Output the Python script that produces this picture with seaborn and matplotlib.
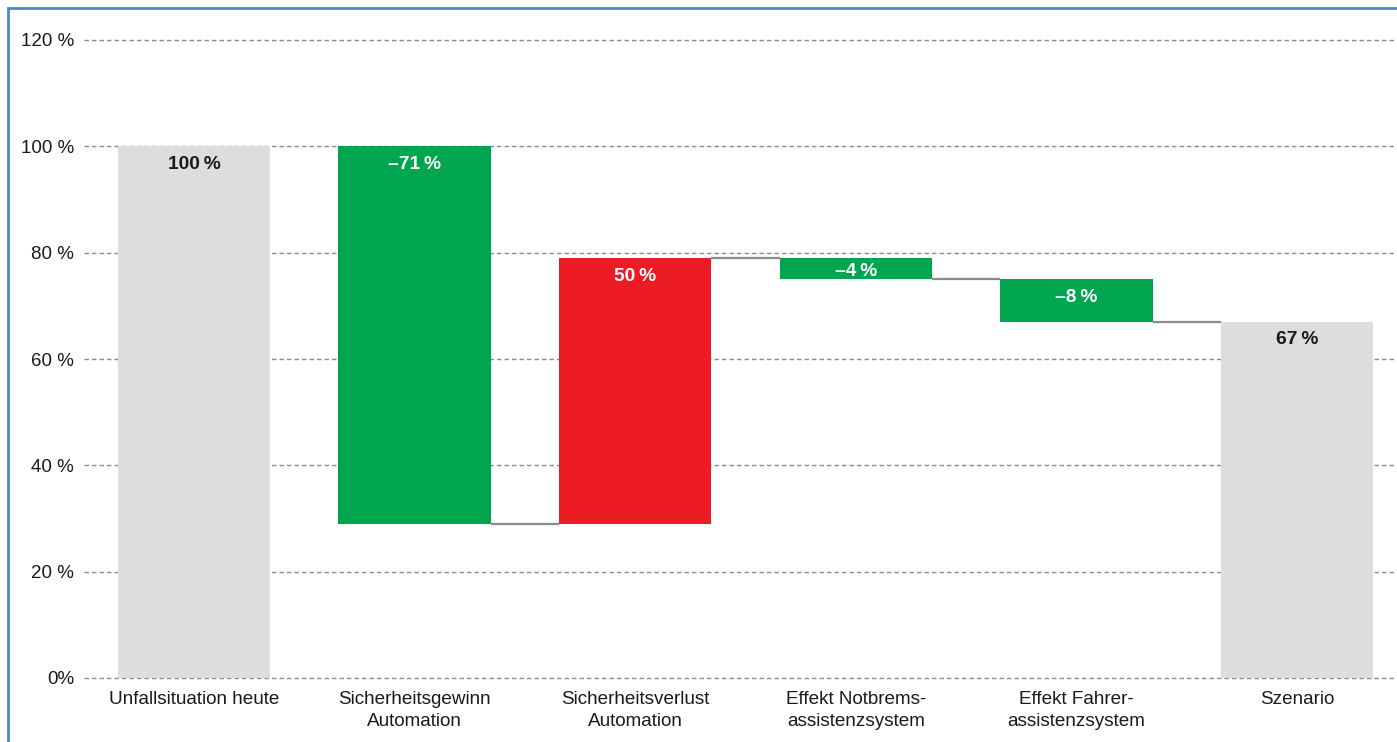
import numpy as np
import pandas as pd
import matplotlib
matplotlib.use("Agg")
import matplotlib.pyplot as plt
from matplotlib.patches import Rectangle
import seaborn as sns

# Waterfall steps
categories = [
    "Unfallsituation heute",
    "Sicherheitsgewinn\nAutomation",
    "Sicherheitsverlust\nAutomation",
    "Effekt Notbrems-\nassistenzsystem",
    "Effekt Fahrer-\nassistenzsystem",
    "Szenario",
]
changes = [100, -71, 50, -4, -8, 67]          # % change per step (first/last are totals)
is_total = [True, False, False, False, False, True]
value_labels = ["100\u2009%", "\u201371\u2009%", "50\u2009%", "\u20134\u2009%", "\u20138\u2009%", "67\u2009%"]
y_ticks = [0, 20, 40, 60, 80, 100, 120]
y_tick_labels = ["0%", "20 %", "40 %", "60 %", "80 %", "100 %", "120 %"]

GREY = "#dcdddf"
GREEN = "#00a550"
RED = "#ed1c24"

# Compute floating bar bottoms and heights
bottoms, heights, colors, levels = [], [], [], []
level = 0.0
for ch, tot in zip(changes, is_total):
    if tot:
        bottoms.append(0.0)
        heights.append(ch)
        colors.append(GREY)
        level = ch
    else:
        new = level + ch
        bottoms.append(min(level, new))
        heights.append(abs(ch))
        colors.append(GREEN if ch < 0 else RED)
        level = new
    levels.append(level)

df = pd.DataFrame({"step": categories, "height": heights})

sns.set_theme(style="white")
plt.rcParams["font.family"] = ["Liberation Sans", "DejaVu Sans"]

fig = plt.figure(figsize=(13.97, 7.42), dpi=100)
# axes spans slightly beyond the right edge so the grid runs to the border
ax = fig.add_axes([83.7 / 1397, 64 / 742, (1407.3 - 83.7) / 1397, 638 / 742])

BAR_W = 0.69
sns.barplot(data=df, x="step", y="height", order=categories, bottom=np.array(bottoms),
            width=BAR_W, color=GREY, saturation=1, ax=ax, zorder=2, linewidth=0)
for patch, c in zip(ax.patches, colors):
    patch.set_facecolor(c)
    patch.set_edgecolor("none")

# Connector lines between consecutive bars
for i in range(1, len(categories) - 1):
    ax.plot([i + BAR_W / 2, i + 1 - BAR_W / 2], [levels[i], levels[i]],
            color="#8a8a8a", lw=1.6, zorder=3, solid_capstyle="butt")

# Value labels inside the bars
for i, (b, h, c, lab) in enumerate(zip(bottoms, heights, colors, value_labels)):
    top = b + h
    off = 1.8 if h > 6 else 1.0
    tc = "#1a1a1a" if c == GREY else "white"
    ax.text(i, top - off, lab, ha="center", va="top", fontsize=13.8,
            fontweight="bold", color=tc, zorder=4)

ax.set_xlim(-0.5, 5.5)
ax.set_ylim(0, 120)
ax.set_yticks(y_ticks)
ax.set_yticklabels(y_tick_labels)
ax.set_xlabel("")
ax.set_ylabel("")
ax.tick_params(axis="y", length=0, pad=7, labelsize=13.5, labelcolor="#1a1a1a")
ax.tick_params(axis="x", length=0, pad=9, labelsize=13.6, labelcolor="#1a1a1a")
for t in ax.get_xticklabels():
    t.set_linespacing(1.45)
ax.yaxis.grid(True, color="#8a8a8a", linestyle=(0, (3.2, 2.2)), linewidth=1.0, zorder=0)
ax.xaxis.grid(False)
for gl in ax.yaxis.get_gridlines():
    gl.set_clip_on(False)
ax.set_axisbelow(True)
for s in ax.spines.values():
    s.set_visible(False)

# Blue frame around the figure
fig.patches.append(Rectangle((8 / 1397, -0.1), 1.2, 0.1 + (742 - 8) / 742,
                             transform=fig.transFigure, fill=False,
                             edgecolor="#4a8bc9", linewidth=2.0, zorder=10))

fig.savefig("out.png", dpi=100, facecolor="white")
